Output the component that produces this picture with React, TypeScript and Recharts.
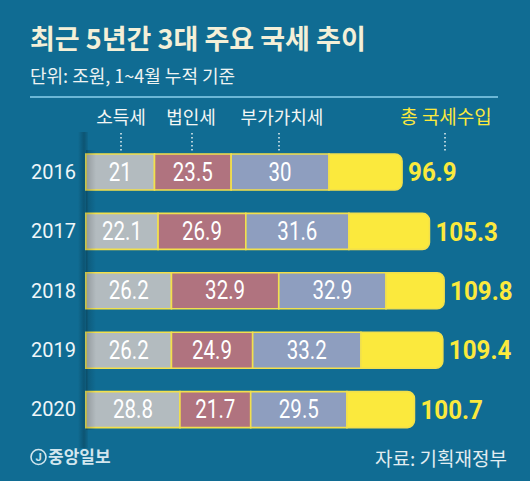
import React from 'react';
import { BarChart, Bar, XAxis, YAxis, LabelList } from 'recharts';

const years = ['2016', '2017', '2018', '2019', '2020'];
const incomeTax = [21, 22.1, 26.2, 26.2, 28.8];
const corporateTax = [23.5, 26.9, 32.9, 24.9, 21.7];
const vatTax = [30, 31.6, 32.9, 33.2, 29.5];
const totalRevenue = [96.9, 105.3, 109.8, 109.4, 100.7];
const seriesLabels = ['소득세', '법인세', '부가가치세'];
const totalLabel = '총 국세수입';
const title = '최근 5년간 3대 주요 국세 추이';
const subtitle = '단위: 조원, 1~4월 누적 기준';
const source = '자료: 기획재정부';
const brand = '중앙일보';

const data = years.map((year, i) => ({
  year,
  income: incomeTax[i],
  corp: corporateTax[i],
  vat: vatTax[i],
  rest: +(totalRevenue[i] - incomeTax[i] - corporateTax[i] - vatTax[i]).toFixed(1),
  total: totalRevenue[i],
}));

const BG = '#106c93';
const YELLOW = '#fbe93d';
const BORDER = '#f2e04c';
const KR = '"Noto Sans CJK KR", "Noto Sans", sans-serif';
const NUM = 'Roboto, "Noto Sans", sans-serif';

const geom = (props: any) => {
  const vb = props.viewBox || {};
  const x = Number(props.x ?? vb.x);
  const y = Number(props.y ?? vb.y);
  const width = Number(props.width ?? vb.width);
  const height = Number(props.height ?? vb.height);
  return { x, y, width, height };
};

const SegLabel = (props: any) => {
  const { x, y, width, height } = geom(props);
  const cx = x + width / 2;
  const cy = y + height / 2;
  return (
    <text
      x={0}
      y={0}
      transform={`translate(${cx},${cy + 8.6}) scale(0.82,1)`}
      textAnchor="middle"
      fill="#ffffff"
      fontFamily={NUM}
      fontSize={25}
    >
      {String(props.value)}
    </text>
  );
};

const TotalLabel = (props: any) => {
  const { x, y, width, height } = geom(props);
  const tx = x + width + 6;
  const cy = y + height / 2;
  return (
    <text
      x={0}
      y={0}
      transform={`translate(${tx},${cy + 9.2}) scale(0.93,1)`}
      textAnchor="start"
      fill={YELLOW}
      fontFamily={NUM}
      fontWeight={700}
      fontSize={26}
    >
      {Number(props.value).toFixed(1)}
    </text>
  );
};

const YearTick = (props: any) => {
  const { y, payload } = props;
  return (
    <text x={76} y={Number(y) + 7.1} textAnchor="end" fill="#eef6f9" fontFamily={NUM} fontSize={20}>
      {payload.value}
    </text>
  );
};

export default function App() {
  const legendX = [121, 191, 282];
  const lineX = [121, 192, 279, 445];
  return (
    <div
      style={{
        position: 'absolute',
        left: 0,
        top: 0,
        width: 530,
        height: 481,
        background: BG,
        overflow: 'hidden',
      }}
    >
      <svg width={530} height={481} style={{ position: 'absolute', left: 0, top: 0 }}>
        <defs>
          <linearGradient id="shadowBand" x1="0" y1="0" x2="1" y2="0">
            <stop offset="0" stopColor="#000" stopOpacity={0} />
            <stop offset="0.6" stopColor="#000" stopOpacity={0.22} />
            <stop offset="1" stopColor="#000" stopOpacity={0.05} />
          </linearGradient>
        </defs>
        <rect x={78} y={132} width={10} height={316} fill="url(#shadowBand)" />
      </svg>
      <div style={{ position: 'absolute', left: 0, top: 0 }}>
        <BarChart
          width={530}
          height={481}
          data={data}
          layout="vertical"
          margin={{ top: 142, right: 20, bottom: 42, left: 0 }}
          barSize={36}
        >
          <XAxis type="number" domain={[0, 130]} hide />
          <YAxis
            type="category"
            dataKey="year"
            width={86}
            axisLine={false}
            tickLine={false}
            tick={YearTick}
            interval={0}
          />
          <Bar dataKey="income" stackId="a" fill="#b3bbbf" stroke={BORDER} strokeWidth={1.6} isAnimationActive={false}>
            <LabelList dataKey="income" content={SegLabel} />
          </Bar>
          <Bar dataKey="corp" stackId="a" fill="#b0737f" stroke={BORDER} strokeWidth={1.6} isAnimationActive={false}>
            <LabelList dataKey="corp" content={SegLabel} />
          </Bar>
          <Bar dataKey="vat" stackId="a" fill="#8e9ebf" stroke={BORDER} strokeWidth={1.6} isAnimationActive={false}>
            <LabelList dataKey="vat" content={SegLabel} />
          </Bar>
          <Bar
            dataKey="rest"
            stackId="a"
            fill={YELLOW}
            stroke={BORDER}
            strokeWidth={1.6}
            radius={[0, 7, 7, 0]}
            isAnimationActive={false}
          >
            <LabelList dataKey="total" content={TotalLabel} />
          </Bar>
        </BarChart>
      </div>
      <svg width={530} height={481} style={{ position: 'absolute', left: 0, top: 0, pointerEvents: 'none' }}>
        <defs>
          <linearGradient id="shadowOver" x1="0" y1="0" x2="1" y2="0">
            <stop offset="0" stopColor="#000" stopOpacity={0.18} />
            <stop offset="1" stopColor="#000" stopOpacity={0} />
          </linearGradient>
        </defs>
        <rect x={86} y={150} width={10} height={280} fill="url(#shadowOver)" />
        <text x={30} y={49} fill="#f4f0d8" fontFamily={KR} fontWeight={700} fontSize={27}>
          {title}
        </text>
        <text x={30} y={82.5} fill="#eef3f2" fontFamily={KR} fontSize={18}>
          {subtitle}
        </text>
        <line x1={30} y1={97} x2={498} y2={97} stroke="#8ad0ec" strokeWidth={1.5} />
        {seriesLabels.map((s, i) => (
          <text key={s} x={legendX[i]} y={123.5} textAnchor="middle" fill="#f3f6f4" fontFamily={KR} fontSize={18}>
            {s}
          </text>
        ))}
        <text x={446} y={123.5} textAnchor="middle" fill={YELLOW} fontFamily={KR} fontSize={19}>
          {totalLabel}
        </text>
        {lineX.map((lx) => (
          <line
            key={lx}
            x1={lx}
            y1={133}
            x2={lx}
            y2={152}
            stroke="#e8f2f4"
            strokeWidth={1.5}
            strokeDasharray="1.5 2.5"
          />
        ))}
        <circle cx={38.5} cy={457} r={7.5} fill="none" stroke="#d2e6ee" strokeWidth={1.6} />
        <text x={38.5} y={461} textAnchor="middle" fill="#d2e6ee" fontFamily={NUM} fontWeight={700} fontSize={11}>
          J
        </text>
        <text x={48} y={463} fill="#d2e6ee" fontFamily={KR} fontWeight={700} fontSize={17}>
          {brand}
        </text>
        <text x={507} y={466} textAnchor="end" fill="#e2edf1" fontFamily={KR} fontSize={19}>
          {source}
        </text>
      </svg>
    </div>
  );
}
